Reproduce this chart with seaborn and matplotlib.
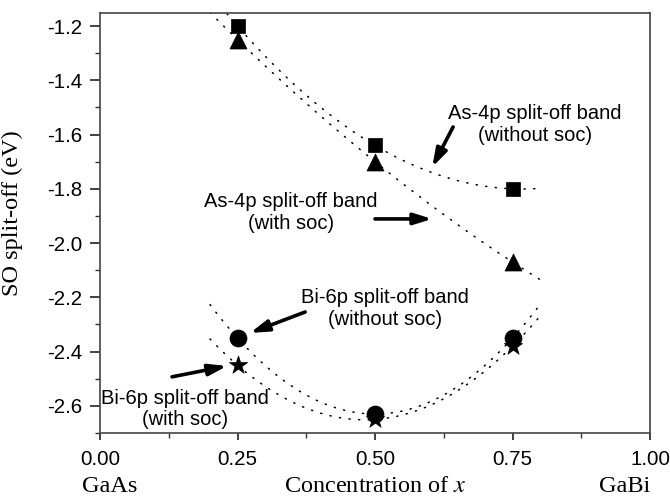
import numpy as np
import pandas as pd
import matplotlib
matplotlib.use("Agg")
import matplotlib.pyplot as plt
import seaborn as sns

# ---- data ----
conc = [0.25, 0.50, 0.75]
as4p_without_soc = [-1.20, -1.64, -1.80]
as4p_with_soc = [-1.25, -1.70, -2.07]
bi6p_without_soc = [-2.35, -2.63, -2.35]
bi6p_with_soc = [-2.45, -2.65, -2.38]
series_names = ["As4p_wo", "As4p_w", "Bi6p_wo", "Bi6p_w"]
xticks = [0.00, 0.25, 0.50, 0.75, 1.00]
xtick_labels = ["0.00", "0.25", "0.50", "0.75", "1.00"]
yticks = [-2.6, -2.4, -2.2, -2.0, -1.8, -1.6, -1.4, -1.2]
ytick_labels = ["-2.6", "-2.4", "-2.2", "-2.0", "-1.8", "-1.6", "-1.4", "-1.2"]

sns.set_theme(style="ticks")
plt.rcParams["font.family"] = ["Liberation Sans", "DejaVu Sans"]
plt.rcParams["mathtext.fontset"] = "stix"
plt.rcParams["text.color"] = "black"
plt.rcParams["xtick.labelcolor"] = "black"
plt.rcParams["ytick.labelcolor"] = "black"
plt.rcParams["axes.labelcolor"] = "black"

df = pd.DataFrame({
    "x": conc * 4,
    "y": as4p_without_soc + as4p_with_soc + bi6p_without_soc + bi6p_with_soc,
    "series": [s for s in series_names for _ in conc],
})

fig = plt.figure(figsize=(6.7, 4.98), dpi=100)
ax = fig.add_axes([100 / 670, 1 - 433 / 498, 550 / 670, 420 / 498])

# quadratic fit curves (dotted), drawn over 0.2..0.8
fit_x = np.linspace(0.2, 0.8, 200)
for vals in [as4p_without_soc, as4p_with_soc, bi6p_without_soc, bi6p_with_soc]:
    coef = np.polyfit(conc, vals, 2)
    ax.plot(fit_x, np.polyval(coef, fit_x), color="black", lw=1.1,
            linestyle=(0, (0.8, 5.5)), dash_capstyle="round", zorder=2)

markers = {"As4p_wo": "s", "As4p_w": "^", "Bi6p_wo": "o", "Bi6p_w": "*"}
sizes = {"As4p_wo": 110, "As4p_w": 150, "Bi6p_wo": 150, "Bi6p_w": 190}
for name in series_names:
    sub = df[df["series"] == name]
    sns.scatterplot(data=sub, x="x", y="y", marker=markers[name], s=sizes[name],
                    color="black", edgecolor="black", linewidth=0.5, ax=ax,
                    legend=False, zorder=3)

ax.set_xlim(0, 1)
ax.set_ylim(-2.7, -1.152)
ax.set_xticks(xticks)
ax.set_xticklabels(xtick_labels)
ax.set_yticks(yticks)
ax.set_yticklabels(ytick_labels)
ax.set_xticks([0.125, 0.375, 0.625, 0.875], minor=True)
ax.set_yticks([-2.7, -2.5, -2.3, -2.1, -1.9, -1.7, -1.5, -1.3], minor=True)
ax.tick_params(axis="both", which="major", direction="out", width=1.3,
               labelsize=14.8, color="#333333")
ax.tick_params(axis="both", which="minor", direction="out", length=3.5, width=1.0,
               color="#333333")
ax.tick_params(axis="y", which="major", length=7, pad=6)
ax.tick_params(axis="x", which="major", length=5, pad=7)
for sp in ax.spines.values():
    sp.set_visible(True)
    sp.set_color("#444444")
    sp.set_linewidth(1.2)

serif = ["Liberation Serif", "DejaVu Serif"]
ax.set_xlabel("")
ax.set_ylabel("SO split-off (eV)", fontsize=17.5, family=serif)
ax.yaxis.set_label_coords(-0.14, 0.524)
ax.text(0.5, -0.128, "Concentration of $x$", transform=ax.transAxes,
        ha="center", va="center", fontsize=17.5, family=serif)
ax.text(-0.033, -0.128, "GaAs", transform=ax.transAxes,
        ha="left", va="center", fontsize=17.5, family=serif)
ax.text(1.0, -0.128, "GaBi", transform=ax.transAxes,
        ha="right", va="center", fontsize=17.5, family=serif)

arrow = dict(arrowstyle="-|>,head_length=0.9,head_width=0.28", color="black",
             lw=2.6, shrinkA=0, shrinkB=0)
txt_kw = dict(ha="center", va="center", fontsize=14.5, linespacing=1.15)

ax.text(0.791, -1.563, "As-4p split-off band\n(without soc)", **txt_kw)
ax.annotate("", xy=(0.604, -1.72), xytext=(0.642, -1.572), arrowprops=arrow)

ax.text(0.347, -1.887, "As-4p split-off band\n(with soc)", **txt_kw)
ax.annotate("", xy=(0.604, -1.911), xytext=(0.50, -1.911), arrowprops=arrow)

ax.text(0.518, -2.241, "Bi-6p split-off band\n(without soc)", **txt_kw)
ax.annotate("", xy=(0.273, -2.331), xytext=(0.373, -2.254), arrowprops=arrow)

ax.text(0.155, -2.611, "Bi-6p split-off band\n(with soc)", **txt_kw)
ax.annotate("", xy=(0.231, -2.453), xytext=(0.131, -2.493), arrowprops=arrow)

fig.savefig("out.png", dpi=100)
